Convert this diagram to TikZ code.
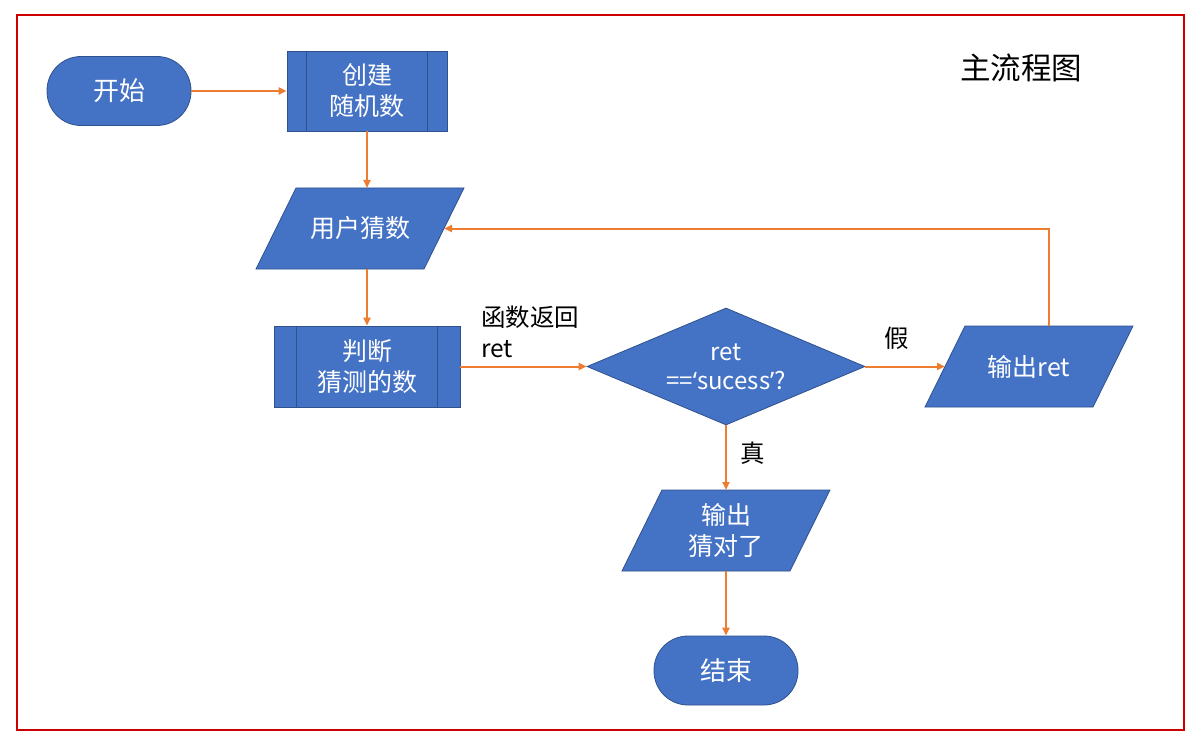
\documentclass[tikz,border=0pt]{standalone}
\usepackage{fontspec}
\setmainfont{Noto Sans CJK SC}
\newfontfamily\latinfont{Noto Sans}
\usetikzlibrary{shapes.geometric,calc,arrows.meta}
\definecolor{boxblue}{HTML}{4472C4}
\definecolor{boxedge}{HTML}{2F528F}
\definecolor{arr}{HTML}{ED7D31}
\definecolor{framered}{HTML}{CC0000}
% parallelogram: name, x, y, text
\newcommand\ionode[4]{%
  \filldraw[iobox] ({#2-64},{#3-40.5}) -- ({#2+104},{#3-40.5}) -- ({#2+64},{#3+40.5}) -- ({#2-104},{#3+40.5}) -- cycle;
  \node[iotext] (#1) at (#2,#3) {#4};
  \coordinate (#1-l) at ({#2-84},#3);
  \coordinate (#1-r) at ({#2+84},#3);
  \coordinate (#1-t) at ({#2+20},{#3-40.5});
  \coordinate (#1-b) at ({#2-20},{#3+40.5});
}
\begin{document}
\begin{tikzpicture}[x=1pt,y=-1pt,
  base/.style={fill=boxblue,draw=boxedge,line width=0.8pt,text=white,font=\fontsize{25}{31}\selectfont,align=center,inner sep=0pt},
  terminal/.style={base,rectangle,rounded corners=34pt,minimum width=144pt,minimum height=69pt,font=\fontsize{26}{31}\selectfont},
  process/.style={base,rectangle},
  iobox/.style={fill=boxblue,draw=boxedge,line width=0.8pt},
  iotext/.style={text=white,font=\fontsize{25}{31}\selectfont,align=center,inner sep=0pt},
  decision/.style={base,diamond,aspect=2.376,minimum width=278pt,minimum height=117pt,font=\fontsize{24}{29}\selectfont},
  flow/.style={draw=arr,line width=2pt,-{Triangle[length=8pt,width=7pt]}},
  lbl/.style={font=\fontsize{24.5}{31}\selectfont,text=black,inner sep=0pt,align=left},
  sideline/.style={draw=boxedge,line width=0.8pt}]
\useasboundingbox (0,0) rectangle (1195,741);
\fill[white] (0,0) rectangle (1195,741);
\draw[framered,line width=2.5pt] (17,15) rectangle (1184,730);

\node[lbl,font=\fontsize{30.5}{36}\selectfont] (title) at (1021,68) {主流程图};

\node[terminal] (start) at (119,91) {开始};
\node[process,minimum width=160pt,minimum height=80pt] (create) at (367,91) {创建\\随机数};
\draw[sideline] ($(create.north west)+(20,0)$) -- ($(create.south west)+(20,0)$);
\draw[sideline] ($(create.north east)+(-20,0)$) -- ($(create.south east)+(-20,0)$);
\ionode{guess}{360}{228.5}{用户猜数}
\node[process,minimum width=186pt,minimum height=81pt] (judge) at (367,366.5) {判断\\猜测的数};
\draw[sideline] ($(judge.north west)+(23,0)$) -- ($(judge.south west)+(23,0)$);
\draw[sideline] ($(judge.north east)+(-23,0)$) -- ($(judge.south east)+(-23,0)$);
\node[decision] (dec) at (726,366.5) {ret\\=={\latinfont‘}sucess{\latinfont’}?};
\ionode{outret}{1029}{366.5}{输出ret}
\ionode{outok}{726}{530.5}{输出\\猜对了}
\node[terminal] (stop) at (726,670.5) {结束};

\draw[flow] (start) -- (create);
\draw[flow] (create.south) -- (create.south |- guess-t);
\draw[flow] (guess-b -| judge.north) -- (judge.north);
\draw[flow] (judge) -- (dec);
\draw[flow] (dec) -- (outret-l);
\draw[flow] (outret-t) |- (guess-r);
\draw[flow] (dec.south) -- (dec.south |- outok-t);
\draw[flow] (outok-b -| stop.north) -- (stop.north);

\node[lbl,anchor=west] (retlbl) at (481,331.5) {函数返回\\ret};
\node[lbl] (nolbl) at (897,338) {假};
\node[lbl] (yeslbl) at (753,453) {真};
\end{tikzpicture}
\end{document}
